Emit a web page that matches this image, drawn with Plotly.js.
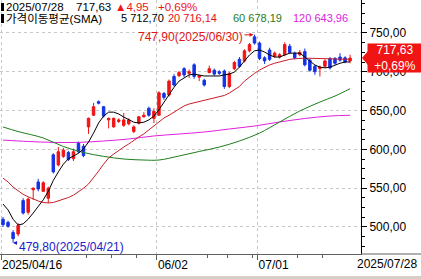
<!DOCTYPE html>
<html><head><meta charset="utf-8">
<script src="https://cdn.plot.ly/plotly-3.0.1.min.js"></script>
<style>html,body{margin:0;padding:0;background:#fff;}#chart{width:421px;height:279px;}</style>
</head><body><div id="chart"></div>
<script>
// ---------- DATA ----------
const dates = [
 '2025-04-16','2025-04-17','2025-04-21','2025-04-22','2025-04-23','2025-04-24','2025-04-25','2025-04-28','2025-04-29','2025-04-30',
 '2025-05-01','2025-05-02','2025-05-05','2025-05-06','2025-05-07','2025-05-08','2025-05-09','2025-05-12','2025-05-13','2025-05-14',
 '2025-05-15','2025-05-16','2025-05-19','2025-05-20','2025-05-21','2025-05-22','2025-05-23','2025-05-27','2025-05-28','2025-05-29',
 '2025-05-30','2025-06-02','2025-06-03','2025-06-04','2025-06-05','2025-06-06','2025-06-09','2025-06-10','2025-06-11','2025-06-12',
 '2025-06-13','2025-06-16','2025-06-17','2025-06-18','2025-06-20','2025-06-23','2025-06-24','2025-06-25','2025-06-26','2025-06-27',
 '2025-06-30','2025-07-01','2025-07-02','2025-07-03','2025-07-07','2025-07-08','2025-07-09','2025-07-10','2025-07-11','2025-07-14',
 '2025-07-15','2025-07-16','2025-07-17','2025-07-18','2025-07-21','2025-07-22','2025-07-23','2025-07-24','2025-07-25','2025-07-28'];
const openP  = [510,506,493,491,534,519,548,558,546,537, 593,580,591,596,588,608,604,629,644,661.5, 655,638,629,636,631,633,623,634,642,653,
                640,644,672,670,694,695,704,698,709,693, 689,699,702,700,701,681,704,716,714,727, 745,737,718,728,720,719,722,733,724,722,
                726,715,707,704,707,717,717,719,718,714];
const highP  = [513,508,496,505,537,538,551,562,559,552, 595,603,602,598,601,610,607,641,660,663, 656,641,641,640,647,640,631,643,648,655,
                653,675,674,690,697,701,706,703,711,696, 691,708,704,702,703,700,714,719,729,737, 747.9,739,720,731,726,724,738,736,726,728,
                730,717,709,708,716,719,719,724,720,722];
const lowP   = [500,499,479.8,488,516,516,535,546,545,531, 569,578,589,585,585,595,590,620,643,658, 641,627,628,634,629,631,621,632,641,642,
                634,643,664,668,681,693,693,692,691,688, 681,698,695,696,678,679,702,705,712,725, 735,715,710,714,718,717,720,723,716,720,
                707,700,696,694,705,703,709,713,711,711];
const closeP = [503,501,485,502,518,536,550,549,557,550, 571,597,599,587,597,597,592,640,655,659.5, 643,640,640,638,638,638,629,642,644,644,
                649,673,667,688,683,699,696,700,694,695, 683,704,697,698,681,698,712,707,727,735, 737,717,714,716,724,722,735,725,718,725,
                709,702,700,706,714,705,711,715,712.68,717.63];
const sma5   = [529.6,522,510,502.6,504,510,518,527,535,546, 560,571,581,588,592,595,600.5,609.5,621,634, 643,648,648,645.6,641.7,638,635,634,635,638,
                643,651,661,670,680,688,692,696,697,696, 694.6,694.6,694.6,694.6,696,697,699.7,706,714,721.6, 727,728,725.5,721.6,719,719,721.6,724,724,724,
                719,714,708.8,706,705,706,708.8,711,712.6,712.7];
const sma20  = [563,558,551.5,546.4,542,539,536,533.5,531.6,531, 531.6,533.5,536,538,541,545,550,555.4,563,572, 581,589,594,599,603,607,612,616,620,625,
                630,635,640.5,644,648,652,656,658.5,660,662, 663,664.3,665.6,667.5,669.5,672.7,676.5,681,688,693.3, 698,702.3,706,708.8,711,713,714.6,716,716.8,717.4,
                717.5,717.4,717.1,717,716.8,716.5,716.5,716.4,716.2,716.14];
const sma60Dates  = ['2025-04-16','2025-04-22','2025-04-29','2025-05-05','2025-05-09','2025-05-15','2025-05-21','2025-05-28','2025-06-02','2025-06-06',
                     '2025-06-12','2025-06-18','2025-06-25','2025-07-01','2025-07-08','2025-07-14','2025-07-18','2025-07-23','2025-07-28'];
const sma60       = [628.9,623,614.7,603.7,596,591,587.6,586.3,586.3,591.5, 597.3,603,610.8,621,635.3,649.5,661,668.8,678.19];
const sma120Dates = ['2025-04-16','2025-04-24','2025-05-01','2025-05-08','2025-05-15','2025-05-22','2025-05-30','2025-06-06','2025-06-13','2025-06-23',
                     '2025-06-30','2025-07-08','2025-07-15','2025-07-22','2025-07-28'];
const sma120      = [612,610.2,609,609,610.8,613.4,617.3,619.8,622.4,626.3, 630.1,635.3,639.8,643,643.96];
const yTickVals = [500,550,600,650,700,750];
const yTickText = ['500,00','550,00','600,00','650,00','700,00','750,00'];
const xTickDates = ['2025-04-16','2025-06-02','2025-07-01'];
const xTickText  = ['2025/04/16','06/02','07/01'];
const xMinorDates = ['2025-05-12','2025-05-19','2025-05-27','2025-06-16','2025-06-23','2025-06-30','2025-07-14','2025-07-21'];
const lastDateLabel = '2025/07/28';
const headerDate = '2025/07/28';
const lastClose = 717.63, changeAbs = 4.95, changePct = 0.69;
const smaTitle = '가격이동평균(SMA)';
const smaPeriods = [5,20,60,120];
const smaLast = [712.70,716.14,678.19,643.96];
const highMark = {date:'2025-06-30', value:747.90};
const lowMark  = {date:'2025-04-21', value:479.80};

// ---------- STYLE ----------
const RED='#f01414', BLUE='#1432e6', MA5='#000000', MA20='#c81e28', MA60='#1e7d1e', MA120='#e020e0';
const W=421,H=279, PL=0, PR=60, PT=0, PB=25;
const PW=W-PL-PR, PH=H-PT-PB;
const yr=[465.2,792.5], xr=[-0.6,71.17];
const k=(yr[1]-yr[0])/PH;
const fmt=v=>v.toFixed(2).replace('.',',');
const idx=d=>dates.indexOf(d);
const px=x=>x/PW, py=y=>(PH-y)/PH;
const FONT='Liberation Sans, Noto Sans CJK KR, DejaVu Sans';

const xi=dates.map((d,i)=>i);
const traces=[
 {type:'scatter',mode:'lines',x:sma120Dates.map(idx),y:sma120,line:{color:MA120,width:1,shape:'spline'},hoverinfo:'skip'},
 {type:'scatter',mode:'lines',x:sma60Dates.map(idx),y:sma60,line:{color:MA60,width:1,shape:'spline'},hoverinfo:'skip'},
 {type:'scatter',mode:'lines',x:xi,y:sma20,line:{color:MA20,width:1},hoverinfo:'skip'},
 {type:'scatter',mode:'lines',x:xi,y:sma5,line:{color:MA5,width:1},hoverinfo:'skip'},
 {type:'candlestick',x:xi,open:openP,high:highP,low:lowP,close:closeP,whiskerwidth:0,
  increasing:{line:{color:RED,width:1},fillcolor:RED},decreasing:{line:{color:BLUE,width:1},fillcolor:BLUE},hoverinfo:'skip'}
];

const ann=[];
function txt(x,y,t,c,size,extra){ann.push(Object.assign({xref:'paper',yref:'paper',x:px(x),y:py(y),xanchor:'left',yanchor:'middle',showarrow:false,
  borderpad:0,text:t,font:{family:FONT,size:size,color:c}},extra||{}));}
txt(5,7,headerDate,'#000',11.5);
txt(75,7,fmt(lastClose),'#000',11.5);
txt(114,7,'▲'+fmt(changeAbs),RED,11.5);
txt(157,7,'+'+fmt(changePct)+'%',RED,11.5);
txt(5,18.5,smaTitle,'#000',11.5);
const maCols=[MA5,'#e01414',MA60,MA120];
const maX=[120,167,232,292];
smaPeriods.forEach((p,j)=>txt(maX[j],18.5,p+' '+fmt(smaLast[j]),maCols[j],11));
// x end label
txt(418,264,lastDateLabel,'#000',12,{xanchor:'right'});
// high / low marks
ann.push({x:idx(highMark.date),y:highMark.value,xref:'x',yref:'y',text:fmt(highMark.value)+'('+highMark.date.replace(/-/g,'/')+')',
  showarrow:true,ax:-64,ay:2,arrowhead:2,arrowsize:0.8,arrowwidth:1,arrowcolor:'#e01414',standoff:1,font:{family:FONT,size:12,color:'#e01414'}});
ann.push({x:idx(lowMark.date),y:lowMark.value,xref:'x',yref:'y',text:fmt(lowMark.value)+'('+lowMark.date.replace(/-/g,'/')+')',
  showarrow:true,ax:58,ay:4,arrowhead:2,arrowsize:0.8,arrowwidth:1,arrowcolor:'#2020c8',standoff:0,font:{family:FONT,size:12,color:'#2020c8'}});
// price tag (box + text in one annotation)
ann.push({xref:'paper',yref:'y',x:px(367),y:lastClose,xanchor:'left',yanchor:'middle',yshift:0.5,
  text:fmt(lastClose)+'<br>+'+fmt(changePct)+'%',showarrow:false,bgcolor:RED,borderpad:0,width:54,height:28,align:'center',valign:'middle',
  font:{family:FONT,size:12,color:'#fff'}});

const C=lastClose;
const shapes=[
 {type:'rect',xref:'paper',yref:'paper',x0:px(1),x1:px(4),y0:py(3),y1:py(11),fillcolor:'#000',line:{width:0}},
 {type:'rect',xref:'paper',yref:'paper',x0:px(1),x1:px(4),y0:py(14),y1:py(23),fillcolor:'#000',line:{width:0}},
 {type:'path',xref:'paper',yref:'y',fillcolor:RED,line:{width:0},layer:'above',
  path:`M ${px(362)},${C} L ${px(368)},${C+7*k} L ${px(368)},${C-7*k} Z`},
 {type:'line',xref:'paper',yref:'paper',x0:1,x1:px(421),y0:0,y1:0,line:{color:'#606060',width:1}},
 {type:'rect',xref:'paper',yref:'paper',x0:0,x1:px(421),y0:py(276),y1:py(279),fillcolor:'#d4d0c8',line:{width:0}}
];

const layout={
 width:W,height:H,margin:{l:PL,r:PR,t:PT,b:PB,pad:0},paper_bgcolor:'#fff',plot_bgcolor:'#fff',showlegend:false,
 font:{family:FONT,size:12,color:'#000'},
 xaxis:{type:'linear',range:xr,rangeslider:{visible:false},fixedrange:true,zeroline:false,
   tickmode:'array',tickvals:xTickDates.map(d=>idx(d)-0.4),ticktext:xTickText,ticklabelposition:'outside right',
   ticks:'outside',ticklen:5,tickcolor:'#606060',showgrid:true,gridcolor:'#c8c8c8',griddash:'3px,3px',gridwidth:1,
   showline:true,linecolor:'#606060',linewidth:1,tickfont:{family:FONT,size:12,color:'#000'},
   minor:{tickmode:'array',tickvals:xMinorDates.map(d=>idx(d)-0.4),ticks:'outside',ticklen:3,tickcolor:'#606060',showgrid:false}},
 yaxis:{side:'right',range:yr,fixedrange:true,zeroline:false,tickmode:'array',tickvals:yTickVals,ticktext:yTickText,
   ticks:'outside',ticklen:5,tickcolor:'#000',showgrid:true,gridcolor:'#c8c8c8',griddash:'3px,3px',gridwidth:1,
   showline:true,linecolor:'#000',linewidth:1,tickfont:{family:FONT,size:12,color:'#000'},
   minor:{tick0:0,dtick:12.5,ticks:'outside',ticklen:3,tickcolor:'#000',showgrid:false}},
 annotations:ann,shapes:shapes
};
Plotly.newPlot('chart',traces,layout,{staticPlot:true,displayModeBar:false});
</script></body></html>
